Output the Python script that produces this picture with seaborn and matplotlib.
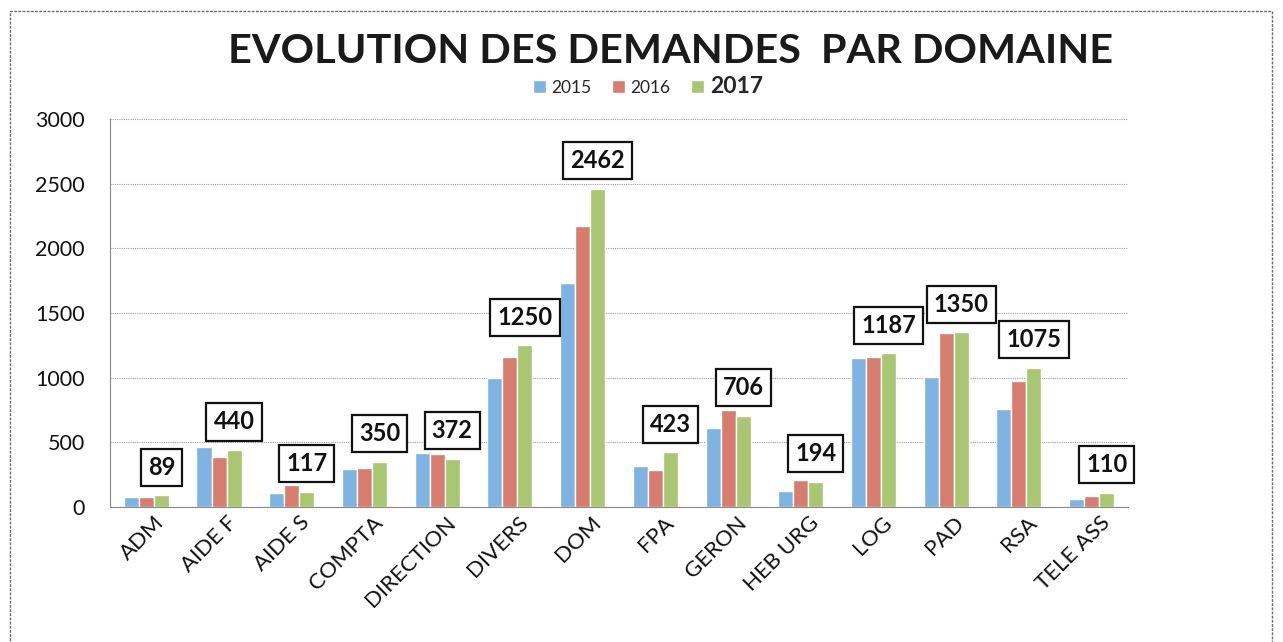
import matplotlib
matplotlib.use("Agg")
import matplotlib.pyplot as plt
import matplotlib.transforms as mtransforms
import seaborn as sns
import pandas as pd
from matplotlib.patches import Rectangle

categories = ["ADM", "AIDE F", "AIDE S", "COMPTA", "DIRECTION", "DIVERS", "DOM",
              "FPA", "GERON", "HEB URG", "LOG", "PAD", "RSA", "TELE ASS"]
years = ["2015", "2016", "2017"]
v2015 = [80, 466, 106, 291, 420, 995, 1730, 317, 608, 126, 1155, 1008, 758, 62]
v2016 = [80, 389, 170, 299, 407, 1162, 2173, 286, 750, 209, 1162, 1345, 974, 85]
v2017 = [89, 440, 117, 350, 372, 1250, 2462, 423, 706, 194, 1187, 1350, 1075, 110]
title = "EVOLUTION DES DEMANDES  PAR DOMAINE"

sns.set_theme(style="white")
plt.rcParams["font.family"] = ["Lato", "DejaVu Sans"]

df = pd.DataFrame({
    "cat": categories * 3,
    "year": [years[0]] * 14 + [years[1]] * 14 + [years[2]] * 14,
    "val": v2015 + v2016 + v2017,
})

colors = ["#7fb3e2", "#d67d6f", "#a9c672"]

fig = plt.figure(figsize=(12.83, 6.42), dpi=100)
ax = fig.add_axes([0.0857, 0.2103, 0.7935, 0.6043])
sns.barplot(data=df, x="cat", y="val", hue="year", palette=colors, width=0.62,
            ax=ax, saturation=1, legend=True)

ax.set_ylim(0, 3000)
ax.set_xlim(-0.5, len(categories) - 0.5)
ax.set_yticks([0, 500, 1000, 1500, 2000, 2500, 3000])
ax.yaxis.grid(True, linestyle=(0, (1, 1)), linewidth=0.8, color="#a898ac")
ax.set_axisbelow(True)
ax.set_xlabel("")
ax.set_ylabel("")
for s in ["top", "right"]:
    ax.spines[s].set_visible(False)
for s in ["left", "bottom"]:
    ax.spines[s].set_color("#8a8a8a")
    ax.spines[s].set_linewidth(0.8)
    ax.spines[s].set_linestyle((0, (2, 1)))
ax.tick_params(axis="y", labelsize=15.5, pad=18, length=0, colors="#111111")
ax.tick_params(axis="x", labelsize=16, length=0, pad=4, colors="#111111")
shift = mtransforms.ScaledTranslation(8 / 100, 0, fig.dpi_scale_trans)
for lab in ax.get_xticklabels():
    lab.set_rotation(45)
    lab.set_ha("right")
    lab.set_rotation_mode("anchor")
    lab.set_transform(lab.get_transform() + shift)

# data labels on 2017 bars
cont2017 = ax.containers[2]
for bar, v in zip(cont2017, v2017):
    x = bar.get_x() + bar.get_width() / 2
    ax.annotate(f"{v}", (x, bar.get_height()), xytext=(0, 12),
                textcoords="offset points", ha="center", va="bottom",
                fontsize=17, fontweight="bold", color="#111111",
                bbox=dict(boxstyle="square,pad=0.3", fc="white", ec="#111111", lw=1.6))

# legend
handles, labels = ax.get_legend_handles_labels()
ax.legend_.remove()
leg = fig.legend(handles, labels, loc="center", bbox_to_anchor=(0.505, 0.866), ncol=3,
                 frameon=False, fontsize=12.5, handlelength=0.75, handleheight=0.75,
                 columnspacing=1.2, handletextpad=0.3)
texts = leg.get_texts()
texts[2].set_fontsize(16.5)
texts[2].set_fontweight("bold")

fig.text(0.523, 0.92, title, ha="center", va="center", fontsize=29.8,
         fontweight="bold", color="#1a1a1a")

# outer frame
fig.patches.append(Rectangle((10 / 1283, -0.01), 1262 / 1283, 1 - 11 / 642 + 0.01,
                             transform=fig.transFigure, fill=False,
                             ec="#6a6a78", lw=1.0, ls=(0, (2, 1))))

fig.savefig("out.png", dpi=100, facecolor="white")
